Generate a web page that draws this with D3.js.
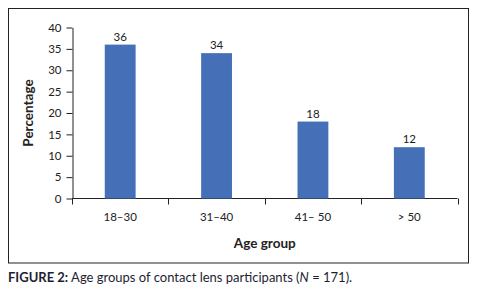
<!DOCTYPE html>
<html>
<head>
<meta charset="utf-8">
<script src="https://cdn.jsdelivr.net/npm/d3@7"></script>
<style>
  body { margin: 0; background: #fff; }
  svg { display: block; }
</style>
</head>
<body>
<div id="chart"></div>
<script>
const ageGroups = ['18–30', '31–40', '41– 50', '> 50']
const percentages = [36, 34, 18, 12]
const yTicks = [0, 5, 10, 15, 20, 25, 30, 35, 40]

const width = 493
const height = 300
const font = 'Lato, "Open Sans", sans-serif'

const svg = d3
  .select('#chart')
  .append('svg')
  .attr('width', width)
  .attr('height', height)
  .attr('viewBox', [0, 0, width, height])

// chart frame
svg
  .append('rect')
  .attr('x', 8.5)
  .attr('y', 8.5)
  .attr('width', 460)
  .attr('height', 254.5)
  .attr('fill', 'none')
  .attr('stroke', '#222')
  .attr('stroke-width', 1)

const x = d3.scaleBand().domain(ageGroups).range([72, 457.5]).padding(0)
const y = d3.scaleLinear().domain([0, 40]).range([198.5, 27.5])
const barW = x.bandwidth() * 0.32

// y axis
svg
  .append('g')
  .attr('transform', 'translate(72.5,0)')
  .call(d3.axisLeft(y).tickValues(yTicks).tickSize(6).tickSizeOuter(0))
  .call((g) => g.select('.domain').attr('stroke', '#222'))
  .call((g) => g.selectAll('.tick line').attr('stroke', '#222'))
  .call((g) =>
    g
      .selectAll('.tick text')
      .attr('x', -11)
      .attr('font-family', font)
      .attr('font-size', 11.5)
      .attr('fill', '#222')
  )

// x axis with boundary ticks
const xAxis = svg.append('g').attr('transform', 'translate(0,198.5)')
xAxis
  .append('line')
  .attr('x1', x.range()[0])
  .attr('x2', x.range()[1])
  .attr('stroke', '#222')
const bounds = ageGroups.map((d) => x(d)).concat([x.range()[1]])
xAxis
  .selectAll('.bound')
  .data(bounds)
  .join('line')
  .attr('class', 'bound')
  .attr('x1', (d) => Math.round(d) + 0.5)
  .attr('x2', (d) => Math.round(d) + 0.5)
  .attr('y1', 0)
  .attr('y2', 6)
  .attr('stroke', '#222')
xAxis
  .selectAll('.lbl')
  .data(ageGroups)
  .join('text')
  .attr('class', 'lbl')
  .attr('x', (d) => x(d) + x.bandwidth() / 2)
  .attr('y', 22)
  .attr('text-anchor', 'middle')
  .attr('font-family', font)
  .attr('font-size', 11.5)
  .attr('fill', '#222')
  .text((d) => d)

// bars
svg
  .append('g')
  .selectAll('rect')
  .data(percentages)
  .join('rect')
  .attr('x', (d, i) => x(ageGroups[i]) + x.bandwidth() / 2 - barW / 2)
  .attr('y', (d) => y(d))
  .attr('width', barW)
  .attr('height', (d) => y(0) - y(d))
  .attr('fill', '#4570b8')

// value labels
svg
  .append('g')
  .selectAll('text')
  .data(percentages)
  .join('text')
  .attr('x', (d, i) => x(ageGroups[i]) + x.bandwidth() / 2)
  .attr('y', (d) => y(d) - 4)
  .attr('text-anchor', 'middle')
  .attr('font-family', font)
  .attr('font-size', 11.5)
  .attr('fill', '#222')
  .text((d) => d)

// axis titles
svg
  .append('text')
  .attr('x', (x.range()[0] + x.range()[1]) / 2)
  .attr('y', 248)
  .attr('text-anchor', 'middle')
  .attr('font-family', font)
  .attr('font-weight', 'bold')
  .attr('font-size', 13.5)
  .attr('fill', '#222')
  .text('Age group')

svg
  .append('text')
  .attr('transform', `translate(33,${(y(0) + y(40)) / 2}) rotate(-90)`)
  .attr('text-anchor', 'middle')
  .attr('font-family', font)
  .attr('font-weight', 'bold')
  .attr('font-size', 13.5)
  .attr('fill', '#222')
  .text('Percentage')

// caption
const caption = svg
  .append('text')
  .attr('x', 8)
  .attr('y', 281.5)
  .attr('font-family', font)
  .attr('font-size', 13)
  .attr('fill', '#1e1e32')
caption.append('tspan').attr('font-weight', 'bold').text('FIGURE 2:')
caption.append('tspan').text(' Age groups of contact lens participants (')
caption.append('tspan').attr('font-style', 'italic').text('N')
caption.append('tspan').text(' = 171).')
</script>
</body>
</html>
